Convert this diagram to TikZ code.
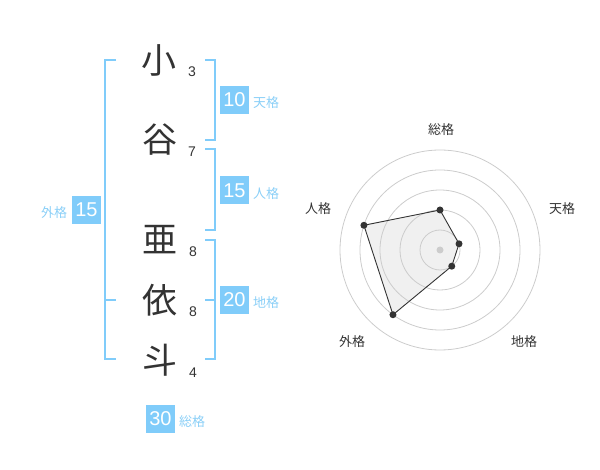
\documentclass[tikz,border=0pt]{standalone}
\usepackage{fontspec}
\setmainfont{Liberation Sans}
\newfontfamily\cjk{Noto Sans CJK JP}
\usetikzlibrary{calc}
\definecolor{brk}{HTML}{80CCFA}
\definecolor{lbl}{HTML}{8ACFF7}
\definecolor{ink}{HTML}{333333}
\definecolor{ring}{HTML}{CCCCCC}
\tikzset{
  kanji/.style={text=ink,font=\cjk\fontsize{35}{35}\selectfont,inner sep=0pt},
  strokes/.style={text=ink,font=\fontsize{14}{14}\selectfont,inner sep=0pt},
  numbox/.style={fill=brk,text=white,font=\fontsize{20}{20}\selectfont,minimum width=29pt,minimum height=28pt,inner sep=0pt},
  kaku/.style={text=lbl,font=\cjk\fontsize{13}{13}\selectfont,inner sep=0pt},
  bracket/.style={draw=brk,line width=2pt},
  radarlbl/.style={text=ink,font=\cjk\fontsize{13}{13}\selectfont,inner sep=0pt},
  ringline/.style={draw=ring,line width=0.8pt},
  dot/.style={circle,fill=ink,inner sep=0pt,minimum size=7pt}
}
\begin{document}
\begin{tikzpicture}[x=1pt,y=-1pt]
\useasboundingbox (0,0) rectangle (600,470);
% kanji
\node[kanji] (k1) at (159,60) {小};
\node[kanji] (k2) at (160,140) {谷};
\node[kanji] (k3) at (160,240) {亜};
\node[kanji] (k4) at (160,300) {依};
\node[kanji] (k5) at (160,360) {斗};
\node[strokes] (s1) at (192,72) {3};
\node[strokes] (s2) at (192,152) {7};
\node[strokes] (s3) at (193,252) {8};
\node[strokes] (s4) at (193,312) {8};
\node[strokes] (s5) at (193,373) {4};
% brackets
\draw[bracket] (116,60) -- (105,60) -- (105,359) -- (116,359);
\draw[bracket] (105,300) -- (116,300);
\draw[bracket] (205,60) -- (215,60) -- (215,140) -- (205,140);
\draw[bracket] (205,149) -- (215,149) -- (215,230) -- (205,230);
\draw[bracket] (205,240) -- (215,240) -- (215,359) -- (205,359);
\draw[bracket] (205,300) -- (215,300);
% boxes
\node[numbox] (ten) at (234.5,100) {10};
\node[kaku] (tenl) at (266,103) {天格};
\node[numbox] (jin) at (234.5,190.5) {15};
\node[kaku] (jinl) at (266,194) {人格};
\node[numbox] (chi) at (234.5,300) {20};
\node[kaku] (chil) at (266,303) {地格};
\node[numbox] (gai) at (86.5,210) {15};
\node[kaku] (gail) at (54,213) {外格};
\node[numbox] (sou) at (160.5,419) {30};
\node[kaku] (soul) at (192,422) {総格};
% radar
\coordinate (c) at (440,250);
\coordinate (p1) at ($(c)+(0,-40)$);
\coordinate (p2) at ($(c)+({20*cos(18)},{-20*sin(18)})$);
\coordinate (p3) at ($(c)+({20*cos(54)},{20*sin(54)})$);
\coordinate (p4) at ($(c)+({-80*cos(54)},{80*sin(54)})$);
\coordinate (p5) at ($(c)+({-80*cos(18)},{-80*sin(18)})$);
\fill[gray!12] (p1) -- (p2) -- (p3) -- (p4) -- (p5) -- cycle;
\foreach \r in {20,40,60,80,100} \draw[ringline] (c) circle[radius=\r];
\fill[ring] (c) circle[radius=3.5];
\draw[ink,line width=0.9pt,line join=round] (p1) -- (p2) -- (p3) -- (p4) -- (p5) -- cycle;
\foreach \p in {p1,p2,p3,p4,p5} \node[dot] at (\p) {};
\node[radarlbl] (r1) at (441,130) {総格};
\node[radarlbl] (r2) at (562,209) {天格};
\node[radarlbl] (r3) at (524,342) {地格};
\node[radarlbl] (r4) at (352,342) {外格};
\node[radarlbl] (r5) at (318,209) {人格};
\end{tikzpicture}
\end{document}
